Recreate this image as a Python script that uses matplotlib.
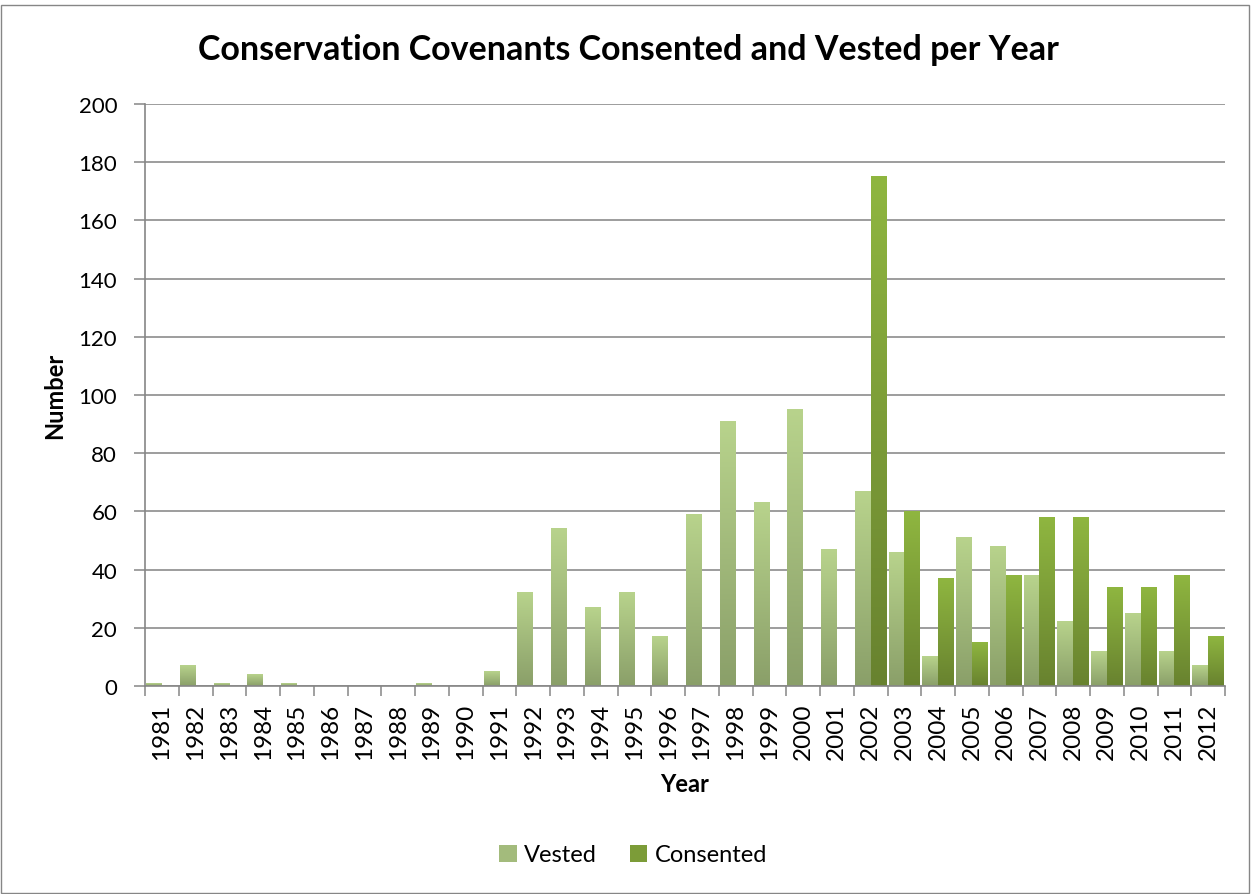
import numpy as np
import matplotlib.pyplot as plt
from matplotlib.patches import Rectangle, Patch
from matplotlib.colors import LinearSegmentedColormap

plt.rcParams['font.family'] = ['Lato', 'DejaVu Sans']

years = list(range(1981, 2013))
vested = [1, 7, 1, 4, 1, 0, 0, 0, 1, 0, 5, 32, 54, 27, 32, 17,
          59, 91, 63, 95, 47, 67, 46, 10, 51, 48, 38, 22, 12, 25, 12, 7]
consented = [0, 0, 0, 0, 0, 0, 0, 0, 0, 0, 0, 0, 0, 0, 0, 0,
             0, 0, 0, 0, 0, 175, 60, 37, 15, 38, 58, 58, 34, 34, 38, 17]

vested_cmap = LinearSegmentedColormap.from_list('v', ['#8a9f69', '#b8d38c'])
consented_cmap = LinearSegmentedColormap.from_list('c', ['#68822f', '#8fb640'])

W, H = 1252, 895
fig = plt.figure(figsize=(W / 100, H / 100), dpi=100)
ax = fig.add_axes([145 / W, 1 - 687 / H, 1080 / W, 582 / H])

# outer chart border
fig.patches.append(Rectangle((0.001, 0.001), 0.997, 0.992, transform=fig.transFigure,
                             fill=False, edgecolor='#868686', lw=1.0))

x = np.arange(len(years))
w = 0.47
grad = np.linspace(0, 1, 256).reshape(-1, 1)


def gradient_bars(xpos, values, cmap):
    bars = ax.bar(xpos, values, width=w, color='none', edgecolor='none', zorder=3)
    for b in bars:
        h = b.get_height()
        if h <= 0:
            continue
        x0 = b.get_x()
        ax.imshow(grad, cmap=cmap, origin='lower', aspect='auto',
                  extent=[x0, x0 + b.get_width(), 0, h], zorder=3,
                  interpolation='bilinear')


gradient_bars(x - w / 2, vested, vested_cmap)
gradient_bars(x + w / 2, consented, consented_cmap)

ax.set_xlim(-0.5, len(years) - 0.5)
ax.set_ylim(0, 200)
ax.set_yticks(range(0, 201, 20))
ax.set_xticks(x)
ax.set_xticklabels([str(y) for y in years], rotation=90)
ax.set_xticks(np.arange(-0.5, len(years), 1.0), minor=True)
ax.tick_params(axis='x', which='major', length=0, labelsize=17.5, pad=12)
ax.tick_params(axis='x', which='minor', length=7, width=1.1, color='#868686')
ax.tick_params(axis='y', length=8, width=1.1, color='#868686', labelsize=16, pad=12)

ax.grid(axis='y', color='#8c8c8c', lw=1.2, zorder=1)
ax.set_axisbelow(True)
for s in ('top', 'right'):
    ax.spines[s].set_visible(False)
for s in ('left', 'bottom'):
    ax.spines[s].set_color('#868686')
    ax.spines[s].set_linewidth(1.2)
    ax.spines[s].set_zorder(4)

fig.text(55 / W, 1 - 396 / H, 'Number', rotation=90, ha='center', va='center',
         fontsize=17, fontweight='bold')
fig.text(685 / W, 1 - 785 / H, 'Year', ha='center', va='center',
         fontsize=17, fontweight='bold')
fig.text(628 / W, 1 - 50 / H, 'Conservation Covenants Consented and Vested per Year',
         ha='center', va='center', fontsize=24.5, fontweight='bold')

handles = [Patch(facecolor='#a3bb7c', label='Vested'),
           Patch(facecolor='#7c9c38', label='Consented')]
fig.legend(handles=handles, loc='center', bbox_to_anchor=(633 / W, 1 - 856 / H),
           ncol=2, frameon=False, fontsize=17, handlelength=0.75, handleheight=0.75,
           handletextpad=0.3, columnspacing=1.4)

fig.savefig('out.png', dpi=100)
